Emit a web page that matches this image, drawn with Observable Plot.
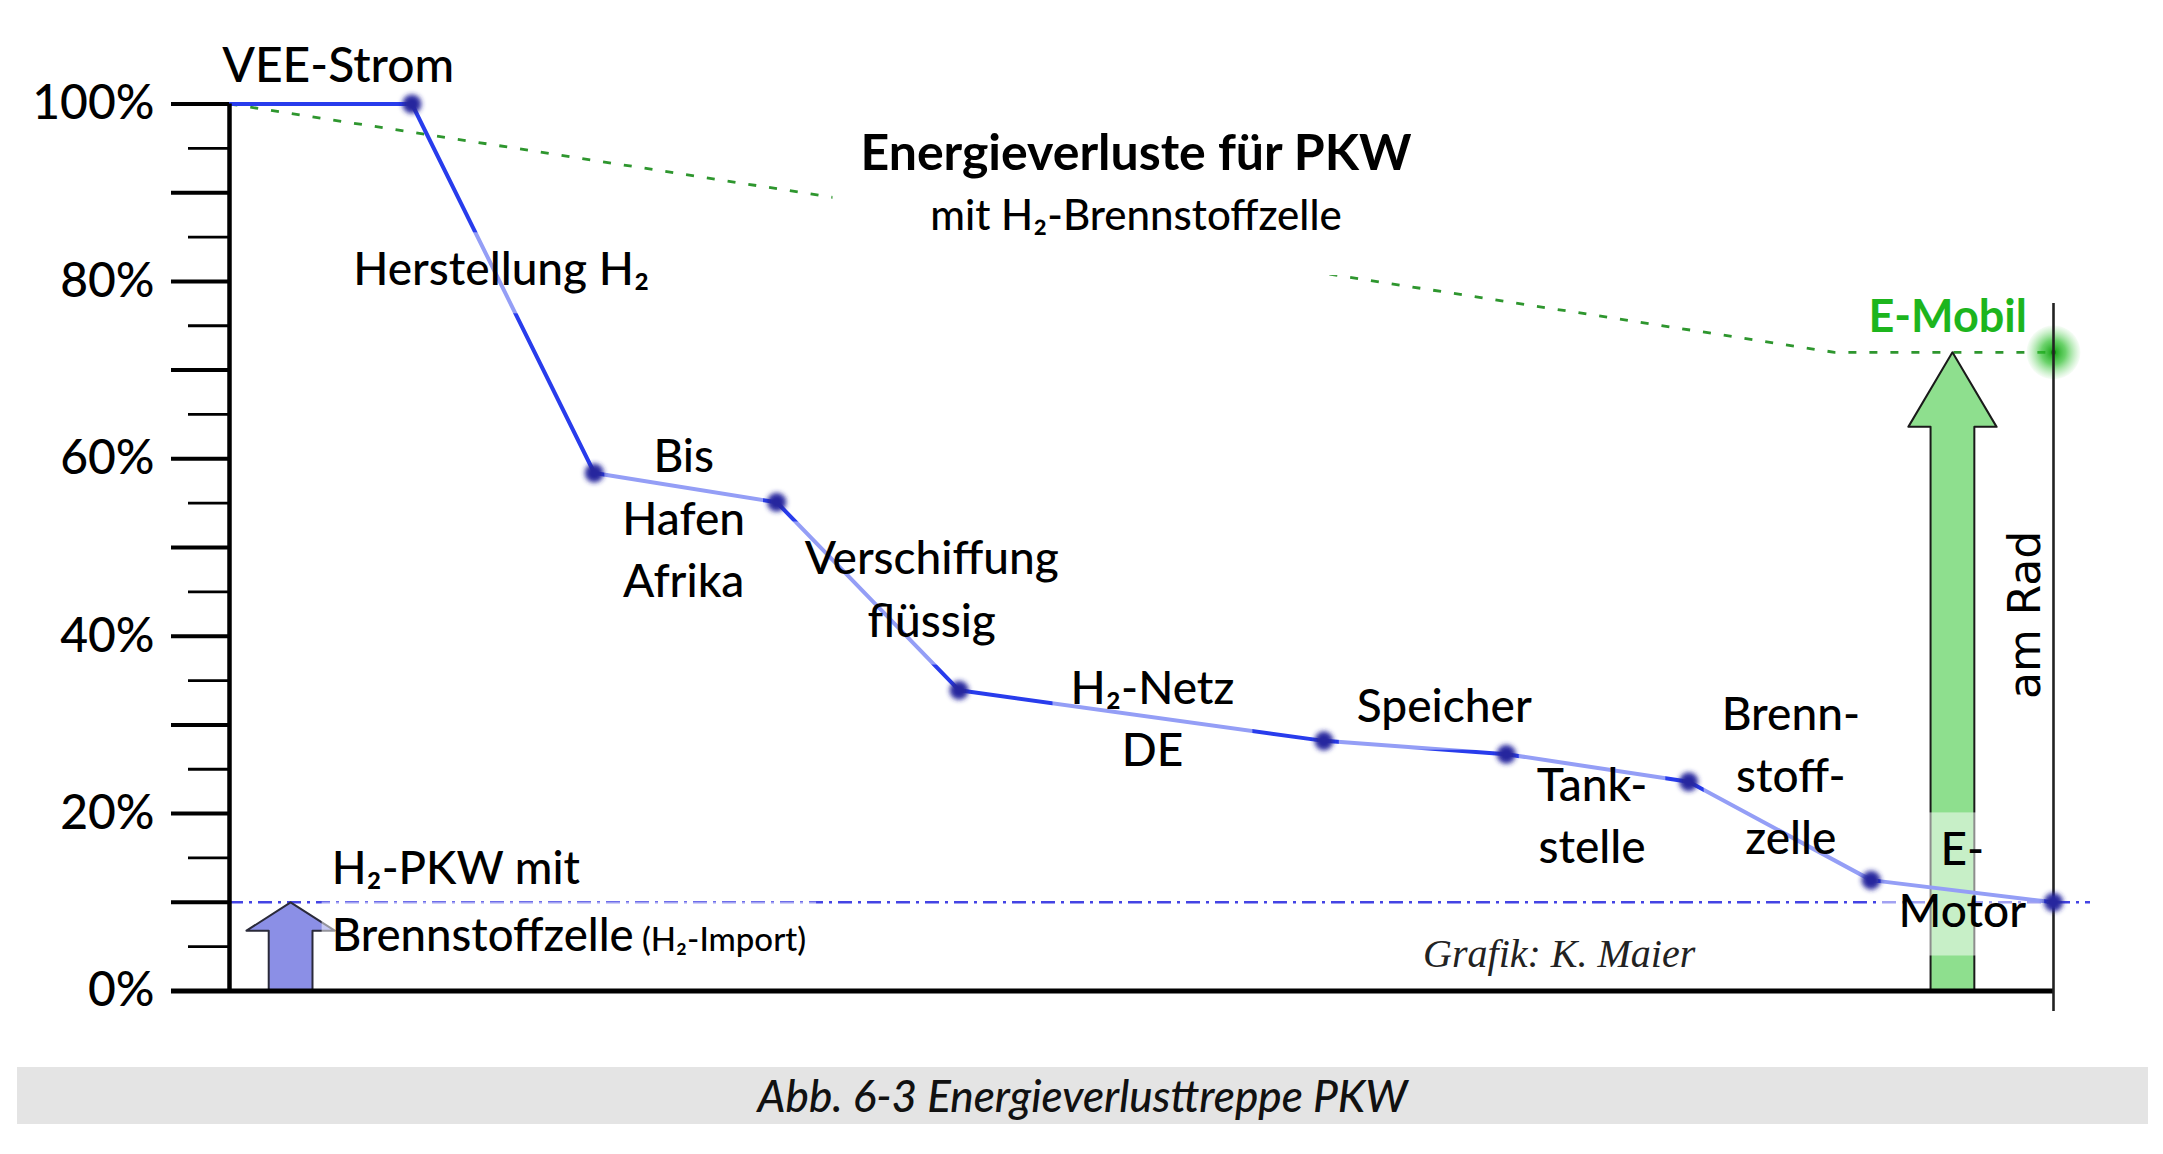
<!DOCTYPE html>
<html>
<head>
<meta charset="utf-8">
<script src="https://cdn.jsdelivr.net/npm/d3@7"></script>
<script src="https://cdn.jsdelivr.net/npm/@observablehq/plot@0.6"></script>
<style>
  html, body { margin: 0; padding: 0; background: #fff; overflow: hidden; }
  #page { position: relative; width: 2163px; height: 1154px; }
  #chart { position: absolute; left: 0; top: 0; }
  #caption {
    position: absolute; left: 17px; top: 1067px; width: 2131px; height: 57px;
    background: #e4e4e4; color: #111;
    font-family: Lato, "Open Sans", sans-serif; font-style: italic; font-weight: 500; font-size: 44px;
    line-height: 57px; text-align: center;
  }
</style>
</head>
<body>
<div id="page">
  <div id="chart"></div>
  <div id="caption">Abb. 6-3 Energieverlusttreppe PKW</div>
</div>
<script>
// ---------- data ----------
const stageX = [0, 1, 2, 3, 4, 6, 7, 8, 9, 10];
const energyPct = [100, 100, 58.4, 55.1, 33.9, 28.2, 26.7, 23.6, 12.5, 10.0];

const eMobilX = [0, 8.8, 10];
const eMobilPct = [100, 72, 72];

const stageLabelText = ["Herstellung H₂", "Bis\nHafen\nAfrika", "Verschiffung\nflüssig", "H₂-Netz\nDE",
                        "Speicher", "Tank-\nstelle", "Brenn-\nstoff-\nzelle", "E-\nMotor"];
const stageLabelX = [1.49, 2.49, 3.85, 5.06, 6.66, 7.47, 8.56, 9.50];
const stageLabelY = [81.8, 53.7, 45.7, 31.1, 32.6, 20.2, 24.7, 12.9];

const pkwLabelText = ["H₂-PKW mit", "Brennstoffzelle"];
const pkwLabelX = [0.56, 0.56];
const pkwLabelY = [13.7, 6.2];

const yTickLabels = [0, 20, 40, 60, 80, 100];
const yMajorTicks = [0, 10, 20, 30, 40, 50, 60, 70, 80, 90, 100];
const yMinorTicks = [5, 15, 25, 35, 45, 55, 65, 75, 85, 95];

// result arrows: center position, tip value, head base value
const arrowCenter = [0.335, 9.446];
const arrowTip = [10, 72];
const arrowHeadBase = [6.8, 63.6];

// ---------- derived tables ----------
const steps = stageX.map((x, i) => ({x, y: energyPct[i]}));
const eMobil = eMobilX.map((x, i) => ({x, y: eMobilPct[i]}));
const stageLabels = stageLabelText.map((t, i) => ({t, x: stageLabelX[i], y: stageLabelY[i]}));
const pkwLabels = pkwLabelText.map((t, i) => ({t, x: pkwLabelX[i], y: pkwLabelY[i]}));

function arrowShape(i) {
  const c = arrowCenter[i], tip = arrowTip[i], hb = arrowHeadBase[i];
  const sw = 0.12, hw = 0.242;
  return [
    {x: c - sw, y: 0}, {x: c - sw, y: hb}, {x: c - hw, y: hb}, {x: c, y: tip},
    {x: c + hw, y: hb}, {x: c + sw, y: hb}, {x: c + sw, y: 0}, {x: c - sw, y: 0}
  ];
}

const W = 2163, H = 1040;
const mL = 229, mR = 110, mT = 103.5, mB = 49.5;
const frameW = W - mL - mR;

const font = "Lato, 'Open Sans', sans-serif";
const FW = 500;

const svg = Plot.plot({
  width: W, height: H,
  marginLeft: mL, marginRight: mR, marginTop: mT, marginBottom: mB,
  x: {domain: [0, 10], axis: null},
  y: {domain: [0, 100], axis: null},
  style: {fontFamily: font, fontSize: "46px", background: "white", color: "black", overflow: "visible"},
  marks: [
    // reference line of the H2 result (10 %)
    Plot.ruleY([energyPct[energyPct.length - 1]], {insetLeft: -58, insetRight: -37, stroke: "#4444e4", strokeWidth: 2.5, strokeDasharray: "14,6,3,6"}),
    // E-Mobil path
    Plot.line(eMobil, {x: "x", y: "y", stroke: "#2e962e", strokeWidth: 2.8, strokeDasharray: "8,13", strokeLinecap: "butt"}),
    // arrows
    Plot.line(arrowShape(0), {x: "x", y: "y", fill: "#8b8fe6", stroke: "#2a2a3a", strokeWidth: 2, curve: "linear"}),
    Plot.line(arrowShape(1), {x: "x", y: "y", fill: "#8edf8e", stroke: "#1a1a1a", strokeWidth: 2, curve: "linear"}),
    // energy staircase
    Plot.line(steps, {x: "x", y: "y", stroke: "#283cec", strokeWidth: 4}),
    Plot.dot(steps.slice(1), {x: "x", y: "y", r: 9.5, fill: "#25279e", ariaDescription: "step-dots"}),
    Plot.dot([eMobil[eMobil.length - 1]], {x: "x", y: "y", r: 27, fill: "url(#glow)"}),
    Plot.dot([eMobil[eMobil.length - 1]], {x: "x", y: "y", r: 2.5, fill: "#118811"}),
    // axes
    Plot.ruleX([0], {y1: 0, y2: 100, stroke: "black", strokeWidth: 4.5}),
    Plot.ruleY(yMajorTicks, {insetLeft: -58, insetRight: frameW, stroke: "black", strokeWidth: 4}),
    Plot.ruleY(yMinorTicks, {insetLeft: -41, insetRight: frameW, stroke: "black", strokeWidth: 2.8}),
    Plot.ruleY([0], {insetLeft: -58, stroke: "black", strokeWidth: 5}),
    Plot.ruleX([10], {y1: -2.3, y2: 77.5, stroke: "#222", strokeWidth: 2.6}),
    Plot.text(yTickLabels, {y: d => d, text: d => d + "%", frameAnchor: "left", dx: -75, textAnchor: "end", fontSize: 48, fontWeight: FW}),
    // labels
    Plot.text([{t: "VEE-Strom", x: -0.04, y: 104.2}], {x: "x", y: "y", text: "t", textAnchor: "start", fontSize: 48, fontWeight: FW}),
    Plot.text(stageLabels, {x: "x", y: "y", text: "t", fontSize: 46, fontWeight: FW, lineHeight: 1.35, ariaDescription: "stage-labels"}),
    Plot.text(pkwLabels, {x: "x", y: "y", text: "t", textAnchor: "start", fontSize: 45.5, fontWeight: FW, ariaDescription: "pkw-labels"}),
    Plot.text([{t: "Grafik: K. Maier", x: 7.29, y: 4.2}], {x: "x", y: "y", text: "t", fontFamily: "'Liberation Serif', 'DejaVu Serif', serif", fontStyle: "italic", fontSize: 40, fill: "#222"}),
    Plot.text([{t: "Energieverluste für PKW", x: 4.97, y: 94.4}], {x: "x", y: "y", text: "t", fontSize: 50, fontWeight: "bold", ariaDescription: "title"}),
    Plot.text([{t: "mit H₂-Brennstoffzelle", x: 4.97, y: 87.3}], {x: "x", y: "y", text: "t", fontSize: 42, fontWeight: FW, ariaDescription: "subtitle"}),
    Plot.text([{t: "E-Mobil", x: 9.42, y: 75.9}], {x: "x", y: "y", text: "t", fontSize: 45, fontWeight: "bold", fill: "#1db51d"}),
    Plot.text([{t: "am Rad", x: 9.846, y: 42.4}], {x: "x", y: "y", text: "t", rotate: -90, fontFamily: "'DejaVu Sans', sans-serif", fontSize: 44})
  ]
});

document.getElementById("chart").append(svg);

// ---------- finishing touches: soft dots, glow, text boxes ----------
const ns = "http://www.w3.org/2000/svg";
const sel = d3.select(svg);
const defs = sel.insert("defs", ":first-child");
const filt = defs.append("filter").attr("id", "soften").attr("x", "-1").attr("y", "-1").attr("width", "3").attr("height", "3");
filt.append("feGaussianBlur").attr("stdDeviation", 2.8);
const grad = defs.append("radialGradient").attr("id", "glow");
[[0, "#10a010", 1], [0.45, "#2cbf2c", 0.7], [1, "#6ad66a", 0.05]].forEach(([o, c, a]) =>
  grad.append("stop").attr("offset", o).attr("stop-color", c).attr("stop-opacity", a));

const group = name => svg.querySelector(`g[aria-description="${name}"]`);
const dotsG = group("step-dots");
if (dotsG) dotsG.setAttribute("filter", "url(#soften)");

// small "(H2-Import)" after "Brennstoffzelle"
const pkwG = group("pkw-labels");
if (pkwG) pkwG.querySelectorAll("text").forEach(t => {
  if (t.textContent.trim() === "Brennstoffzelle") {
    const ts = document.createElementNS(ns, "tspan");
    ts.setAttribute("font-size", 33);
    ts.textContent = " (H₂-Import)";
    t.append(ts);
  }
});

function boxesBehind(labels, opacity, pad, union) {
  const s = svg.getBoundingClientRect();
  const groups = labels.map(group).filter(Boolean);
  if (!groups.length) return;
  const rects = [];
  groups.forEach(g => g.querySelectorAll("text").forEach(t => {
    const b = t.getBoundingClientRect();
    rects.push({x0: b.left - s.left, y0: b.top - s.top, x1: b.right - s.left, y1: b.bottom - s.top});
  }));
  const list = union ? [{
    x0: d3.min(rects, r => r.x0), y0: d3.min(rects, r => r.y0),
    x1: d3.max(rects, r => r.x1), y1: d3.max(rects, r => r.y1)}] : rects;
  const bg = document.createElementNS(ns, "g");
  list.forEach(r => {
    const rect = document.createElementNS(ns, "rect");
    rect.setAttribute("x", r.x0 - pad.x);
    rect.setAttribute("y", r.y0 - pad.top);
    rect.setAttribute("width", r.x1 - r.x0 + 2 * pad.x);
    rect.setAttribute("height", r.y1 - r.y0 + pad.top + pad.bottom);
    rect.setAttribute("fill", "white");
    rect.setAttribute("fill-opacity", opacity);
    bg.append(rect);
  });
  groups[0].parentNode.insertBefore(bg, groups[0]);
}
boxesBehind(["stage-labels"], 0.5, {x: 18, top: 8, bottom: 18}, false);
boxesBehind(["pkw-labels"], 0.5, {x: 10, top: 4, bottom: 4}, false);
boxesBehind(["title", "subtitle"], 1, {x: 28, top: 10, bottom: 36}, true);

// keep the step dots above the translucent label boxes
const stageG = group("stage-labels");
if (dotsG && stageG) stageG.parentNode.insertBefore(dotsG, stageG);
</script>
</body>
</html>
